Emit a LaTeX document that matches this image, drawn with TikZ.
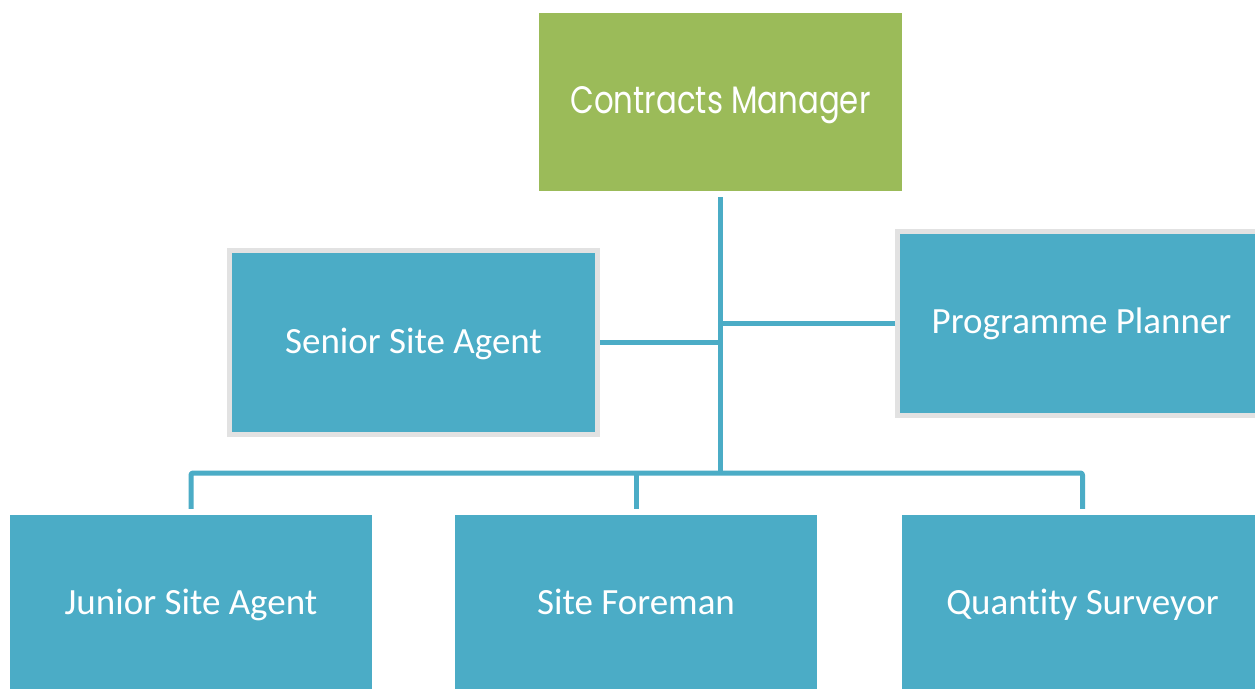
\documentclass[tikz,border=0pt]{standalone}
\usepackage{fontspec}
\setmainfont{Carlito}[Ligatures={NoCommon}]
\newfontfamily\geofont{Poppins}
\definecolor{boxblue}{HTML}{4BACC6}
\definecolor{boxgreen}{HTML}{9BBB59}
\definecolor{rimgrey}{HTML}{E2E2E2}
\tikzset{
  bluebox/.style={rectangle, fill=boxblue, text=white, inner sep=0pt,
    minimum width=362pt, minimum height=178pt, text height=26pt, text depth=5pt,
    font=\fontsize{37}{40}\selectfont},
  rimbox/.style={bluebox, draw=rimgrey, line width=5pt, minimum width=368pt, minimum height=184pt},
  greenbox/.style={rectangle, fill=boxgreen, text=white, inner sep=0pt,
    minimum width=363pt, minimum height=178pt, text height=27pt, text depth=5pt},
  conn/.style={draw=boxblue, line width=5pt, line join=round}
}
\begin{document}
\begin{tikzpicture}[x=1pt,y=-1pt]
\clip (0,0) rectangle (1255,688);
\fill[white] (0,0) rectangle (1255,688);
\node[greenbox] (cm) at (720.5,102) {\resizebox{300pt}{27pt}{\geofont Contracts Manager}};
\node[rimbox] (ssa) at (413.5,342.5) {Senior Site Agent};
\node[rimbox] (pp) at (1081.5,323) {Programme Planner};
\node[bluebox] (jsa) at (191,604) {Junior Site Agent};
\node[bluebox] (sf) at (636,604) {Site Foreman};
\node[bluebox] (qs) at (1082.5,604) {Quantity Surveyor};
\coordinate (hub) at (720.5,473);
\draw[conn, shorten <=6pt] (cm.south) -- (hub);
\draw[conn] (ssa.east) -- (ssa.east -| hub);
\draw[conn] (pp.west) -- (pp.west -| hub);
\draw[conn, shorten <=6pt, shorten >=6pt, rounded corners=2pt] (jsa.north) |- (qs.north |- hub) -- (qs.north);
\draw[conn, shorten >=6pt] (sf.north |- hub) -- (sf.north);
\end{tikzpicture}
\end{document}
